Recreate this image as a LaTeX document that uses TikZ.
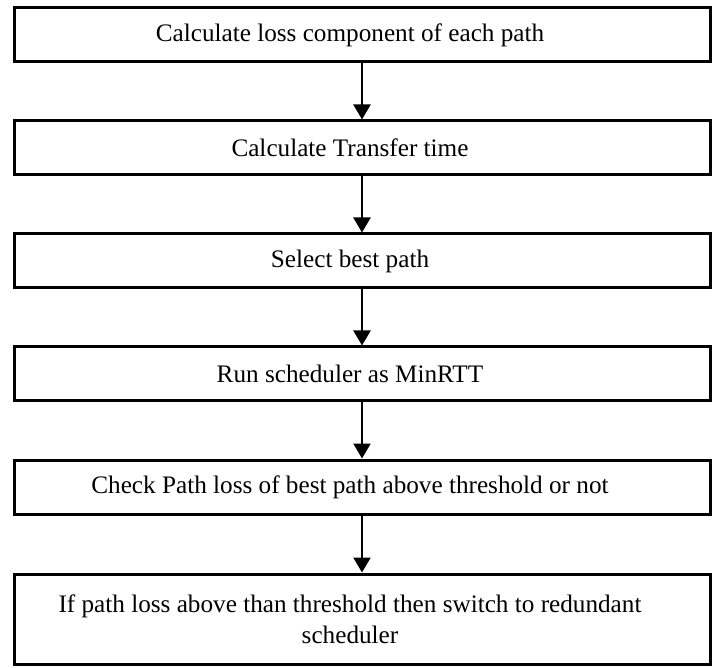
\documentclass[tikz,border=0pt]{standalone}
\usepackage{fontspec}
\setmainfont{Liberation Serif}
\usetikzlibrary{arrows.meta}
% trailing space that sets each line a little left of the box centre
\newcommand{\lineend}{\hspace*{12pt}}
\begin{document}
\begin{tikzpicture}[x=0.5pt,y=-0.5pt,
  stepbox/.style={draw=black, line width=1.5pt, fill=white, rectangle,
    minimum width=348pt, minimum height=27pt, inner sep=0pt,
    align=center, font=\fontsize{12.6}{15.5}\selectfont},
  flow/.style={draw=black, line width=1.2pt,
    -{Triangle[length=7.5pt,width=8.5pt]}}]
\useasboundingbox (0,0) rectangle (718,668);
\node[stepbox] (s1) at (362,35) {Calculate loss component of each path\lineend};
\node[stepbox] (s2) at (362,148) {Calculate Transfer time\lineend};
\node[stepbox] (s3) at (362,261) {Select best path\lineend};
\node[stepbox] (s4) at (362,374) {Run scheduler as MinRTT\lineend};
\node[stepbox] (s5) at (362,487) {Check Path loss of best path above threshold or not\lineend};
\node[stepbox, minimum height=45pt] (s6) at (362,619)
  {If path loss above than threshold then switch to redundant\lineend\\scheduler\lineend};
\draw[flow] (s1) -- (s2);
\draw[flow] (s2) -- (s3);
\draw[flow] (s3) -- (s4);
\draw[flow] (s4) -- (s5);
\draw[flow] (s5) -- (s6);
\end{tikzpicture}
\end{document}
